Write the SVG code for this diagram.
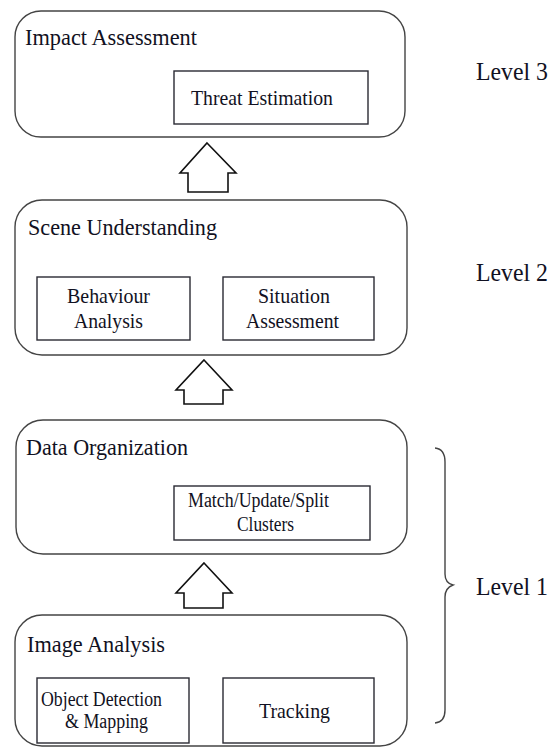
<svg xmlns="http://www.w3.org/2000/svg" width="555" height="751" viewBox="0 0 555 751">
  <style>
    .panel { fill: #ffffff; stroke: #444444; stroke-width: 1.4; }
    .task { fill: #ffffff; stroke: #2a2a33; stroke-width: 1.4; }
    .up { fill: #ffffff; stroke: #111111; stroke-width: 1.6; stroke-linejoin: miter; }
    .brace { fill: none; stroke: #444444; stroke-width: 1.4; }
    .head { font-size: 24px; }
    .item { font-size: 21.5px; }
    .small { font-size: 20px; }
    .lvl { font-size: 26px; }
  </style>
  <rect width="555" height="751" fill="#ffffff"/>

  <g font-family="Liberation Serif, Tinos, DejaVu Serif, serif" fill="#111122">
    <!-- Level 3 -->
    <g id="impact-assessment">
      <rect class="panel" x="15" y="11" width="390" height="126" rx="26"/>
      <text class="head" x="25" y="45" textLength="172" lengthAdjust="spacingAndGlyphs">Impact Assessment</text>
    </g>
    <g id="threat-estimation">
      <rect class="task" x="174" y="71" width="194" height="53"/>
      <text class="item" x="191" y="105" textLength="142" lengthAdjust="spacingAndGlyphs">Threat Estimation</text>
    </g>

    <!-- Level 2 -->
    <g id="scene-understanding">
      <rect class="panel" x="15" y="200" width="392" height="155" rx="27"/>
      <text class="head" x="28" y="235" textLength="189" lengthAdjust="spacingAndGlyphs">Scene Understanding</text>
    </g>
    <g id="behaviour-analysis">
      <rect class="task" x="37" y="277" width="153" height="63"/>
      <text class="item" x="67" y="303" textLength="83" lengthAdjust="spacingAndGlyphs">Behaviour</text>
      <text class="item" x="74" y="328" textLength="69" lengthAdjust="spacingAndGlyphs">Analysis</text>
    </g>
    <g id="situation-assessment">
      <rect class="task" x="223" y="277" width="151" height="63"/>
      <text class="item" x="258" y="303" textLength="72" lengthAdjust="spacingAndGlyphs">Situation</text>
      <text class="item" x="246" y="328" textLength="93" lengthAdjust="spacingAndGlyphs">Assessment</text>
    </g>

    <!-- Level 1 -->
    <g id="data-organization">
      <rect class="panel" x="16" y="420" width="391" height="134" rx="27"/>
      <text class="head" x="26" y="455" textLength="162" lengthAdjust="spacingAndGlyphs">Data Organization</text>
    </g>
    <g id="match-update-split">
      <rect class="task" x="174" y="486" width="196" height="54"/>
      <text class="small" x="188" y="507" textLength="141" lengthAdjust="spacingAndGlyphs">Match/Update/Split</text>
      <text class="small" x="237" y="531" textLength="57" lengthAdjust="spacingAndGlyphs">Clusters</text>
    </g>

    <g id="image-analysis">
      <rect class="panel" x="15" y="615" width="392" height="131" rx="27"/>
      <text class="head" x="27" y="652" textLength="138" lengthAdjust="spacingAndGlyphs">Image Analysis</text>
    </g>
    <g id="object-detection">
      <rect class="task" x="37" y="678" width="152" height="65"/>
      <text class="small" x="41" y="706" textLength="121" lengthAdjust="spacingAndGlyphs">Object Detection</text>
      <text class="small" x="65" y="728" textLength="83" lengthAdjust="spacingAndGlyphs">&amp; Mapping</text>
    </g>
    <g id="tracking">
      <rect class="task" x="223" y="678" width="151" height="65"/>
      <text class="item" x="259" y="718" textLength="71" lengthAdjust="spacingAndGlyphs">Tracking</text>
    </g>

    <!-- upward block arrows between stages -->
    <g id="connectors">
      <polygon class="up" points="207,143 236,173 228,173 228,192 188,192 188,173 180,173"/>
      <polygon class="up" points="204,360 232,390 223,390 223,404 184,404 184,390 176,390"/>
      <polygon class="up" points="204,563 232,593 223,593 223,608 184,608 184,593 176,593"/>
    </g>

    <!-- level labels -->
    <g id="level-labels">
      <text class="lvl" x="476" y="80" textLength="72" lengthAdjust="spacingAndGlyphs">Level 3</text>
      <text class="lvl" x="476" y="281" textLength="72" lengthAdjust="spacingAndGlyphs">Level 2</text>
      <path class="brace" d="M435,448 Q445,449 445,462 L445,574 Q445,583 453,585 Q445,588 445,597 L445,710 Q445,722 435,723"/>
      <text class="lvl" x="476" y="595" textLength="72" lengthAdjust="spacingAndGlyphs">Level 1</text>
    </g>
  </g>
</svg>
